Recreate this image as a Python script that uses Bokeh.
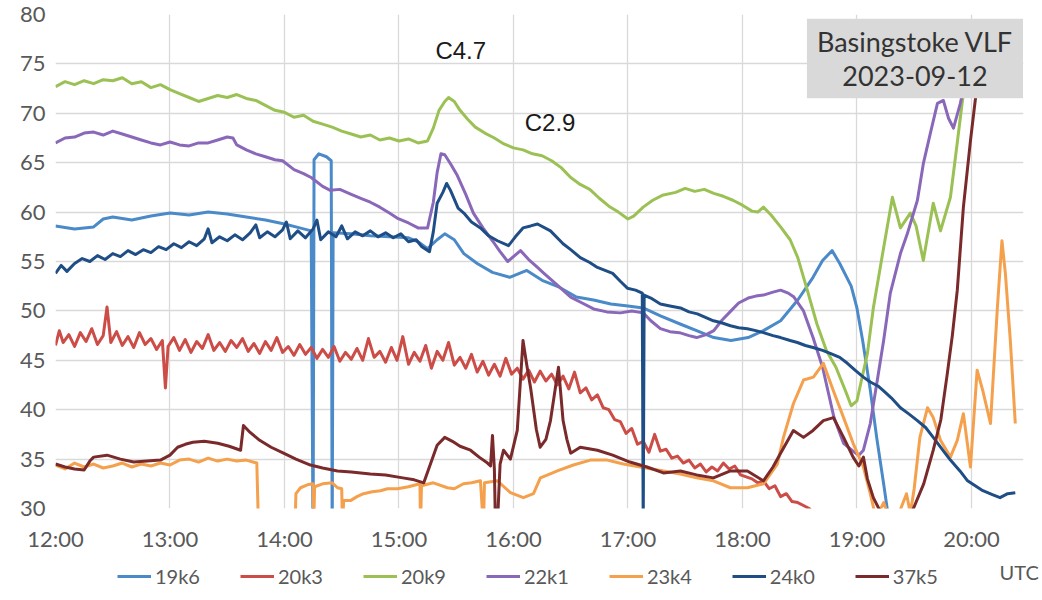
from bokeh.plotting import figure
from bokeh.layouts import column
from bokeh.models import Range1d, FixedTicker, Legend, LegendItem, Label, LinearAxis
from bokeh.embed import file_html
from bokeh.resources import INLINE

# ---- data: (minutes after 12:00 UTC, signal level) ----
series_names = ["19k6", "20k3", "20k9", "22k1", "23k4", "24k0", "37k5"]
series_colors = ["#4a8ac8", "#cc4d47", "#9bc155", "#8a68b9", "#f4a04c", "#1f4e86", "#7a2a2a"]

s_19k6 = [(0, 58.6), (10, 58.3), (20, 58.5), (25, 59.3), (30, 59.5), (40, 59.2), (50, 59.6), (60, 59.9),
          (70, 59.7), (80, 60.0), (90, 59.8), (100, 59.5), (110, 59.2), (120, 58.8), (128, 58.4), (134, 58.1),
          (135, 26), (135.5, 65.3), (138, 65.9), (142, 65.6), (144.5, 65.2), (145, 26), (145.5, 57.9),
          (155, 57.8), (165, 57.6), (175, 57.5), (185, 57.4), (190, 57.0), (195, 56.3), (200, 57.2),
          (204, 57.8), (209, 57.2), (214, 55.8), (221, 54.8), (229, 53.9), (238, 53.4), (247, 54.1),
          (255, 53.1), (264, 52.4), (273, 51.4), (282, 51.1), (291, 50.7), (300, 50.5), (308, 50.3),
          (317, 49.5), (327, 48.7), (336, 48.0), (345, 47.3), (354, 47.0), (363, 47.3), (371, 48.0),
          (380, 49.0), (389, 51.1), (397, 53.4), (402, 55.1), (407, 56.1), (411, 54.8), (417, 52.5),
          (420, 50.3), (423, 47.0), (427, 42.0), (430.5, 37.0), (434, 32.5), (436, 29.8), (440, 25)]

s_20k3 = [(0, 46.5), (2, 48.0), (4, 46.8), (7, 47.6), (10, 46.4), (13, 47.8), (16, 46.9), (19, 48.2),
          (22, 46.6), (25, 47.5), (27, 50.4), (29, 46.8), (32, 47.9), (35, 46.5), (38, 47.4), (41, 46.3),
          (44, 47.8), (47, 46.6), (50, 47.2), (53, 46.1), (56, 47.0), (57.6, 42.2), (59, 46.4), (62, 47.3),
          (65, 46.0), (68, 47.1), (71, 45.8), (74, 46.9), (77, 46.2), (80, 47.6), (83, 46.0), (86, 46.8),
          (89, 45.9), (92, 47.0), (95, 46.3), (98, 47.2), (101, 45.9), (104, 46.7), (107, 45.7), (110, 46.9),
          (113, 46.0), (116, 47.3), (119, 45.8), (122, 46.4), (125, 45.5), (128, 46.6), (131, 45.6),
          (134, 46.3), (137, 45.2), (140, 46.1), (143, 45.3), (146, 46.4), (149, 44.9), (152, 45.8),
          (155, 45.1), (158, 46.2), (161, 45.0), (164, 47.2), (167, 45.3), (170, 45.9), (173, 44.8),
          (176, 46.3), (179, 45.0), (182, 47.4), (185, 44.6), (188, 45.8), (191, 44.9), (194, 46.5),
          (197, 44.2), (200, 45.9), (203, 45.0), (206, 46.8), (209, 44.5), (212, 45.3), (215, 44.2),
          (218, 45.6), (221, 43.8), (224, 44.9), (227, 43.5), (230, 44.6), (233, 43.4), (236, 45.2),
          (239, 43.6), (242, 44.2), (245, 43.1), (248, 44.0), (251, 42.8), (254, 43.9), (257, 42.9),
          (260, 43.6), (263, 42.5), (266, 43.4), (269, 42.1), (272, 43.8), (275, 41.7), (278, 42.2),
          (281, 41.0), (284, 41.5), (287, 40.2), (290, 40.0), (293, 39.0), (296, 38.8), (299, 37.6),
          (302, 38.1), (305, 36.5), (308, 36.8), (311, 35.7), (314, 37.5), (317, 35.8), (320, 36.0),
          (323, 35.1), (326, 35.3), (329, 34.6), (332, 34.9), (335, 34.1), (338, 34.5), (341, 33.7),
          (344, 34.2), (347, 33.8), (350, 34.6), (353, 34.0), (356, 34.3), (359, 33.4), (362, 33.2),
          (365, 33.0), (368, 32.6), (371, 32.8), (374, 32.0), (377, 32.3), (380, 31.2), (383, 31.5),
          (386, 30.7), (389, 30.6), (392, 30.3), (395, 30.0), (398, 29.3), (402, 28.0)]

s_20k9 = [(0, 72.7), (5, 73.2), (10, 72.9), (15, 73.3), (20, 73.0), (25, 73.4), (30, 73.3), (35, 73.6),
          (40, 73.0), (45, 73.2), (50, 72.6), (55, 72.9), (60, 72.4), (65, 72.0), (70, 71.6), (75, 71.2),
          (80, 71.5), (85, 71.8), (90, 71.6), (95, 71.9), (100, 71.5), (105, 71.3), (110, 70.8), (115, 70.3),
          (120, 70.1), (125, 69.6), (130, 69.8), (135, 69.2), (140, 68.9), (145, 68.6), (150, 68.2),
          (155, 67.9), (160, 67.6), (165, 67.8), (170, 67.3), (175, 67.5), (180, 67.2), (185, 67.4),
          (190, 67.0), (195, 67.2), (198, 68.5), (201, 70.3), (204, 71.2), (206, 71.6), (209, 71.2),
          (212, 70.3), (216, 69.4), (220, 68.6), (225, 68.0), (230, 67.5), (235, 66.9), (240, 66.5),
          (245, 66.3), (250, 65.9), (255, 65.7), (260, 65.2), (265, 64.5), (270, 63.5), (275, 62.8),
          (280, 62.3), (285, 61.4), (290, 60.6), (295, 60.0), (300, 59.3), (303, 59.6), (308, 60.5),
          (313, 61.2), (318, 61.7), (325, 62.0), (330, 62.4), (335, 62.1), (340, 62.3), (345, 61.9),
          (350, 61.6), (355, 61.2), (360, 60.7), (365, 60.1), (368, 60.0), (371, 60.5), (375, 59.7),
          (380, 58.5), (385, 57.2), (389, 55.4), (394, 52.1), (399, 48.7), (404, 46.0), (409, 44.3),
          (414, 41.9), (417, 40.4), (420, 40.9), (425.5, 45.7), (428.6, 50.3), (434, 56.4), (438.6, 61.5),
          (442.8, 58.4), (448, 59.9), (451, 58.6), (454.8, 55.1), (460, 60.9), (463.8, 58.1), (469, 61.5),
          (472.7, 67.2), (475.3, 71.3), (478, 74.0), (480, 76.0)]

s_22k1 = [(0, 67.0), (5, 67.5), (10, 67.6), (15, 68.0), (20, 68.1), (25, 67.8), (30, 68.2), (35, 67.9),
          (40, 67.6), (45, 67.3), (50, 67.0), (55, 66.8), (60, 67.1), (65, 66.8), (70, 66.7), (75, 67.0),
          (80, 67.0), (85, 67.3), (90, 67.6), (93, 67.5), (95, 66.8), (100, 66.3), (105, 65.9), (110, 65.6),
          (115, 65.3), (119, 65.2), (125, 64.3), (130, 63.9), (134, 63.5), (140, 62.6), (144, 62.2),
          (149, 62.3), (155, 61.8), (160, 61.4), (165, 61.0), (170, 60.5), (175, 59.9), (179, 59.4),
          (185, 58.9), (190, 58.4), (195, 58.4), (198, 61.0), (200, 64.0), (202, 65.9), (204, 65.8),
          (207, 64.9), (210.6, 63.7), (215, 61.8), (219, 59.9), (224, 58.4), (229, 57.1), (233, 56.0),
          (237, 55.0), (240, 55.5), (243.7, 56.1), (248, 55.2), (252.6, 54.4), (256, 53.8), (263, 52.6),
          (270, 51.4), (276, 50.8), (282, 50.2), (289, 49.9), (296, 49.8), (302, 50.0), (308, 49.8),
          (312, 49.0), (317, 48.2), (322, 47.9), (327, 47.8), (332, 47.5), (336, 47.3), (341, 47.6),
          (345, 48.0), (349, 49.0), (354, 50.0), (358, 50.8), (363, 51.3), (367, 51.5), (371, 51.6),
          (376, 51.9), (380, 52.1), (384, 51.8), (387, 51.4), (392, 50.0), (397, 47.3), (402, 44.3),
          (408, 39.2), (413, 36.6), (418, 35.8), (421, 35.4), (423.4, 35.9), (427, 38.6), (430.7, 43.0),
          (434, 47.0), (437.5, 51.8), (442.8, 55.8), (446.4, 57.8), (451.7, 61.2), (454.8, 64.9),
          (458.5, 68.0), (462.2, 71.0), (465.3, 71.3), (468, 69.5), (470.6, 68.5), (474.2, 71.0),
          (477, 73.5), (480, 75.0)]

s_23k4 = [(0, 34.4), (5, 34.0), (10, 34.6), (15, 34.2), (20, 34.5), (25, 34.1), (30, 34.3), (35, 34.6),
          (40, 34.2), (45, 34.5), (50, 34.3), (55, 34.6), (60, 34.4), (65, 34.9), (70, 35.0), (75, 34.7),
          (80, 35.1), (85, 34.8), (90, 35.0), (95, 34.8), (100, 34.9), (105.5, 34.6), (106.4, 28),
          (125.5, 28), (126, 31.5), (128.4, 32.1), (132, 32.4), (135, 32.5), (135.3, 28), (135.8, 32.2),
          (140, 32.5), (145, 32.6), (147.8, 32.1), (150, 32.0), (150.4, 28), (151, 30.8), (154.6, 30.8),
          (158, 31.2), (161.4, 31.5), (166, 31.7), (170.3, 31.8), (174, 32.0), (179.2, 32.0), (185, 32.2),
          (191, 32.5), (191.3, 28), (191.8, 32.3), (198, 32.6), (205.4, 32.1), (209, 32.0), (213.8, 32.5),
          (218, 32.6), (222.7, 32.8), (224.3, 28), (224.8, 32.6), (231.6, 32.8), (235, 32.2), (238.4, 31.6),
          (245.2, 31.1), (250.5, 31.5), (254.1, 33.1), (258, 33.4), (263, 33.8), (271.4, 34.4),
          (280.3, 34.9), (289.2, 34.9), (297.6, 34.5), (306.5, 34.2), (318.6, 33.8), (327.5, 33.5),
          (336, 33.1), (344.8, 32.8), (353.7, 32.1), (362.6, 32.1), (371, 32.5), (378.3, 34.5),
          (381.5, 37.2), (386.7, 40.6), (392, 43.0), (397.2, 43.3), (402.4, 44.7), (407.7, 41.9),
          (413, 39.2), (418, 36.6), (423.4, 34.2), (427, 31.5), (430, 29.0), (434, 30.6), (436, 29.5),
          (440, 28), (443, 30.0), (446, 31.5), (448, 29.5), (450, 32.0), (453, 37.2), (457, 40.2),
          (460, 39.2), (463.8, 36.9), (469, 35.2), (472.6, 36.9), (475.8, 39.6), (479.5, 34.2), (483, 44.0),
          (486, 41.9), (490, 38.6), (493.6, 50.3), (496, 57.1), (497.8, 53.8), (500.4, 47.0), (503, 38.6)]

s_24k0 = [(0, 53.8), (3, 54.6), (6, 54.0), (10, 54.8), (14, 55.3), (18, 55.0), (22, 55.6), (26, 55.2),
          (30, 55.8), (34, 55.5), (38, 56.1), (42, 55.7), (46, 56.2), (50, 55.9), (54, 56.5), (58, 56.2),
          (62, 56.8), (66, 56.4), (70, 57.0), (74, 56.6), (78, 57.3), (80, 58.3), (82, 56.9), (86, 57.5),
          (90, 57.1), (94, 57.7), (98, 57.2), (102, 57.9), (105, 58.7), (107, 57.4), (111, 58.0),
          (115, 57.5), (119, 58.2), (121, 59.0), (123, 57.3), (127, 58.1), (131, 57.4), (135, 58.3),
          (137, 59.2), (139, 57.2), (143, 58.0), (147, 57.5), (150, 58.6), (153, 57.3), (157, 58.0),
          (161, 57.6), (165, 58.1), (169, 57.5), (173, 57.9), (177, 57.4), (181, 57.8), (185, 57.0),
          (189, 57.2), (192, 56.5), (196, 56.0), (198, 58.0), (200, 60.9), (203, 62.0), (205, 62.9),
          (207, 62.2), (211, 60.4), (214, 59.9), (218, 59.0), (222.7, 58.4), (227, 57.6), (231.6, 57.1),
          (237.4, 56.6), (241, 57.5), (245, 58.4), (249, 58.6), (252.6, 58.8), (259.4, 58.1), (266, 56.8),
          (270, 56.2), (275, 55.4), (280, 54.9), (284, 54.4), (288, 54.1), (292, 53.8), (296, 53.0),
          (299.7, 52.3), (304, 52.1), (307.5, 51.8), (308, 28), (308.5, 51.6), (312, 51.3), (317, 50.7),
          (322, 50.5), (327.5, 50.3), (332, 49.9), (336.4, 49.7), (340, 49.4), (344.8, 49.0), (349, 48.8),
          (353.7, 48.5), (358, 48.3), (362.6, 48.2), (367, 48.0), (371, 47.8), (376, 47.5), (380, 47.3),
          (385, 47.0), (388.8, 46.8), (393, 46.5), (397, 46.3), (402, 46.0), (406, 45.7), (411, 45.3),
          (415, 44.7), (419, 44.0), (423.4, 43.3), (427, 42.8), (431, 42.4), (434, 41.9), (438, 41.2),
          (442.8, 40.2), (447, 39.6), (451.7, 38.9), (456, 38.2), (460, 37.2), (465, 35.9), (469, 34.9),
          (474, 33.8), (478, 32.8), (482, 32.3), (486, 31.8), (491, 31.4), (495, 31.1), (499, 31.5),
          (503, 31.6)]

s_37k5 = [(0, 34.5), (5, 34.2), (10, 34.0), (15, 33.9), (18, 34.8), (20, 35.2), (27, 35.4), (34, 35.0),
          (41, 34.7), (48, 34.8), (55, 34.9), (60, 35.4), (64, 36.2), (68, 36.5), (72, 36.7), (78, 36.8),
          (85, 36.6), (91, 36.3), (97, 35.9), (98.5, 38.4), (102, 37.7), (107, 36.9), (113, 36.2),
          (119.5, 35.6), (126, 35.0), (133.6, 34.4), (140, 34.1), (147.8, 33.8), (155, 33.7), (165, 33.5),
          (173, 33.4), (182, 33.1), (188, 32.9), (193, 32.6), (196.5, 34.5), (200, 36.4), (204, 37.2),
          (208, 36.8), (212, 36.3), (217.5, 35.9), (222, 35.2), (226.4, 34.6), (228, 34.3), (229, 37.4),
          (230, 34.0), (230.6, 28), (231.5, 28), (233, 34.5), (234.8, 35.9), (238.4, 35.0), (242, 37.9),
          (245, 47.0), (247, 44.5), (249, 42.2), (252, 38.0), (254, 36.2), (257, 37.0), (259.4, 38.9),
          (263.6, 44.3), (266, 38.9), (268, 37.0), (270, 35.6), (275, 36.2), (284, 35.9), (292, 35.4),
          (301, 34.7), (310, 34.2), (318.6, 33.6), (327.5, 33.8), (336, 33.4), (344.8, 33.1), (353.7, 33.8),
          (362.6, 33.8), (371, 32.8), (376, 34.2), (380, 35.6), (386.7, 37.9), (392, 37.2), (397, 37.9),
          (402.4, 38.9), (407.7, 39.2), (413, 37.2), (418, 35.2), (421, 34.3), (423.4, 35.2), (425.5, 33.0),
          (428.6, 31.1), (432, 29.8), (436, 28), (445, 28), (449.6, 30.0), (455, 32.5), (460, 35.9),
          (464, 39.0), (467.4, 43.7), (470, 47.5), (472.6, 52.1), (475.8, 60.5), (479.5, 67.2),
          (482, 71.3), (484, 74.0), (486, 76.0)]

all_series = [s_19k6, s_20k3, s_20k9, s_22k1, s_23k4, s_24k0, s_37k5]

hour_ticks = [12, 13, 14, 15, 16, 17, 18, 19, 20]
level_ticks = [30, 35, 40, 45, 50, 55, 60, 65, 70, 75, 80]
flare_labels = [("C4.7", 15.54, 76.4), ("C2.9", 16.32, 69.1)]
time_unit = "UTC"

FONT = "Lato"
GREY = "#595959"

# ---------------- main chart ----------------
p = figure(width=1042, height=556, output_backend="svg", toolbar_location=None,
           x_range=Range1d(12, 20.455), y_range=Range1d(30, 80),
           min_border_left=55, min_border_top=14, min_border_right=19, min_border_bottom=48)
p.outline_line_color = None
p.background_fill_color = "white"
p.border_fill_color = "white"

for name, color, data in zip(series_names, series_colors, all_series):
    xs = [12 + m / 60.0 for m, _ in data]
    ys = [v for _, v in data]
    p.line(xs, ys, line_color=color, line_width=3, line_join="round")

p.xaxis.ticker = FixedTicker(ticks=hour_ticks)
p.xaxis.major_label_overrides = {h: f"{h}:00" for h in hour_ticks}
p.yaxis.ticker = FixedTicker(ticks=level_ticks)
for ax in (p.xaxis, p.yaxis):
    ax.axis_line_color = None
    ax.major_tick_line_color = None
    ax.minor_tick_line_color = None
    ax.major_tick_out = 0
    ax.major_tick_in = 0
    ax.major_label_text_font = FONT
    ax.major_label_text_font_size = "22px"
    ax.major_label_text_color = GREY
p.xaxis.major_label_standoff = 16
p.yaxis.major_label_standoff = 10

p.xgrid.ticker = FixedTicker(ticks=hour_ticks)
p.ygrid.ticker = FixedTicker(ticks=level_ticks)
p.xgrid.grid_line_color = "#d9d9d9"
p.ygrid.grid_line_color = "#d9d9d9"
p.xgrid.grid_line_width = 1.3
p.ygrid.grid_line_width = 1.3

for txt, x, y in flare_labels:
    p.add_layout(Label(x=x, y=y, text=txt, text_align="center", text_baseline="middle",
                       text_font="Liberation Sans", text_font_size="24px", text_color="#1a1a1a"))

p.add_layout(Label(x=19.507, y=75.55, text="Basingstoke VLF\n2023-09-12", anchor="center",
                   text_align="center", text_baseline="middle", text_font=FONT,
                   text_font_size="27px", text_color="#333333", text_line_height=1.05,
                   background_fill_color="#d9d9d9", padding=(10, 6)))

# ---------------- legend strip (series keys; data lie outside its window) ----------------
q = figure(width=1042, height=44, output_backend="svg", toolbar_location=None,
           x_range=Range1d(1000, 2000), y_range=Range1d(0, 44),
           x_axis_type=None, y_axis_type=None,
           min_border_left=55, min_border_right=19, min_border_top=0, min_border_bottom=0)
q.outline_line_color = None
q.xgrid.visible = False
q.ygrid.visible = False
keys = []
for color, data in zip(series_colors, all_series):
    keys.append(q.line([12 + m / 60.0 for m, _ in data], [v for _, v in data],
                       line_color=color, line_width=3))

legend = Legend(items=[LegendItem(label=n, renderers=[r]) for n, r in zip(series_names, keys)],
                orientation="horizontal", location=(62, 12),
                label_text_font=FONT, label_text_font_size="20px", label_text_color=GREY,
                glyph_width=34, label_standoff=4, spacing=40, margin=0, padding=4,
                border_line_color=None, background_fill_alpha=0)
q.add_layout(legend, "center")

unit_axis = LinearAxis(ticker=FixedTicker(ticks=[35]), major_label_overrides={35: time_unit},
                       axis_line_color=None, major_tick_line_color=None, minor_tick_line_color=None,
                       major_tick_out=0, major_tick_in=0, major_label_standoff=-24,
                       major_label_text_font=FONT, major_label_text_font_size="20px",
                       major_label_text_color=GREY)
q.add_layout(unit_axis, "right")

layout = column(p, q, spacing=0)
open("out.html", "w").write(file_html(layout, INLINE))
